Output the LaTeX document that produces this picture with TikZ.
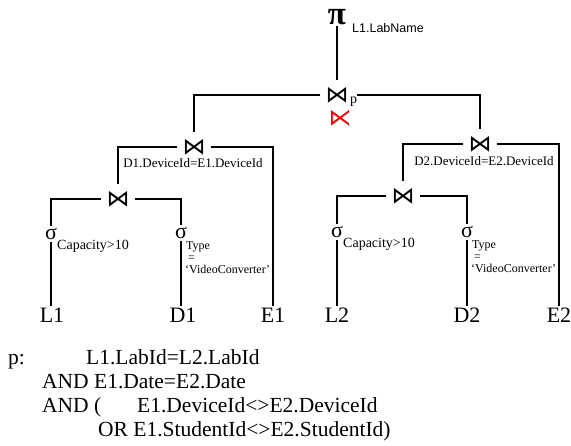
\documentclass[tikz,border=0pt]{standalone}
\usepackage{fontspec}
\setmainfont{Liberation Serif}
\newfontfamily\attrfont{Liberation Sans}
\newfontfamily\opfont{DejaVu Sans}
\usetikzlibrary{positioning}
\tikzset{
    joinop/.style={font=\opfont\fontsize{23}{23}\selectfont, inner xsep=5pt, inner ysep=0.5pt},
    selop/.style={font=\fontsize{22}{22}\selectfont, inner sep=2pt},
    rel/.style={font=\fontsize{22}{22}\selectfont, inner sep=2pt, anchor=base},
    cond/.style={font=\fontsize{14}{14}\selectfont, inner sep=0pt, anchor=base west},
    joincond/.style={font=\fontsize{13}{13}\selectfont, inner sep=0pt, anchor=base},
    smallcond/.style={font=\fontsize{12}{12}\selectfont, inner sep=0pt, anchor=base west},
    pred/.style={font=\fontsize{21.5}{21.5}\selectfont, inner sep=0pt, anchor=base west},
    edge/.style={line width=1.3pt},
    tojoin/.style={edge, shorten >=6pt}
}
\begin{document}
\begin{tikzpicture}[x=1pt,y=-1pt]
        \useasboundingbox (0,0) rectangle (571,446);
        % projection
        \node [font=\bfseries\fontsize{33}{33}\selectfont, inner sep=1pt] (proj) at (337,17) {π};
        \node [font=\attrfont\fontsize{12.5}{12.5}\selectfont, inner sep=0pt, anchor=base west] (projattr) at (352,33) {L1.LabName};
        % joins
        \node [joinop] (jtop) at (337,95) {⋈};
        \node [cond] (jtopp) at (350,104) {p};
        \node [joinop, text=red] (jred) at (340,118) {⋉};
        \node [joinop] (jl) at (194,147) {⋈};
        \node [joincond] (jlc) at (193,168) {D1.DeviceId=E1.DeviceId};
        \node [joinop] (jr) at (480,144) {⋈};
        \node [joincond] (jrc) at (484,166) {D2.DeviceId=E2.DeviceId};
        \node [joinop] (jll) at (118,199) {⋈};
        \node [joinop] (jrl) at (403,196) {⋈};
        % selections
        \node [selop] (sl1) at (51,234) {σ};
        \node [cond] (sl1c) at (57,250) {Capacity>10};
        \node [selop] (sd1) at (181,233) {σ};
        \node [smallcond] (sd1c) at (186,250) {Type};
        \node [smallcond] (sd1e) at (188,262) {=};
        \node [smallcond] (sd1v) at (185,274) {‘VideoConverter’};
        \node [selop] (sl2) at (337,232) {σ};
        \node [cond] (sl2c) at (343,248) {Capacity>10};
        \node [selop] (sd2) at (467,232) {σ};
        \node [smallcond] (sd2c) at (472,249) {Type};
        \node [smallcond] (sd2e) at (474,261) {=};
        \node [smallcond] (sd2v) at (471,273) {‘VideoConverter’};
        % relations
        \node [rel] (l1) at (52,323) {L1};
        \node [rel] (d1) at (183,323) {D1};
        \node [rel] (e1) at (273,323) {E1};
        \node [rel] (l2) at (337,323) {L2};
        \node [rel] (d2) at (467,323) {D2};
        \node [rel] (e2) at (559,323) {E2};
        % tree
        \draw [tojoin] (proj) -- (jtop);
        \draw [tojoin] (jtop.west) -| (jl.north);
        \draw [tojoin] (jtop.east -| jtopp.east) -| (jr.north);
        \draw [tojoin] (jl.west) -| (jll.north);
        \draw [edge] (jl.east) -| (e1.north);
        \draw [tojoin] (jr.west) -| (jrl.north);
        \draw [edge] (jr.east) -| (e2.north);
        \draw [edge] (jll.west) -| (sl1.north);
        \draw [edge] (jll.east) -| (sd1.north);
        \draw [edge] (jrl.west) -| (sl2.north);
        \draw [edge] (jrl.east) -| (sd2.north);
        \draw [edge] (sl1.south) -- (sl1.south |- l1.north);
        \draw [edge] (sd1.south) -- (sd1.south |- d1.north);
        \draw [edge] (sl2.south) -- (sl2.south |- l2.north);
        \draw [edge] (sd2.south) -- (sd2.south |- d2.north);
        % predicate p
        \node [pred] (plabel) at (8,365) {p:};
        \node [pred] (pline1) at (86,365) {L1.LabId=L2.LabId};
        \node [pred] (pline2) at (42,389) {AND E1.Date=E2.Date};
        \node [pred] (pline3) at (42,413) {AND (};
        \node [pred] (pline3b) at (137,413) {E1.DeviceId<>E2.DeviceId};
        \node [pred] (pline4) at (98,437) {OR E1.StudentId<>E2.StudentId)};
    \end{tikzpicture}
\end{document}
